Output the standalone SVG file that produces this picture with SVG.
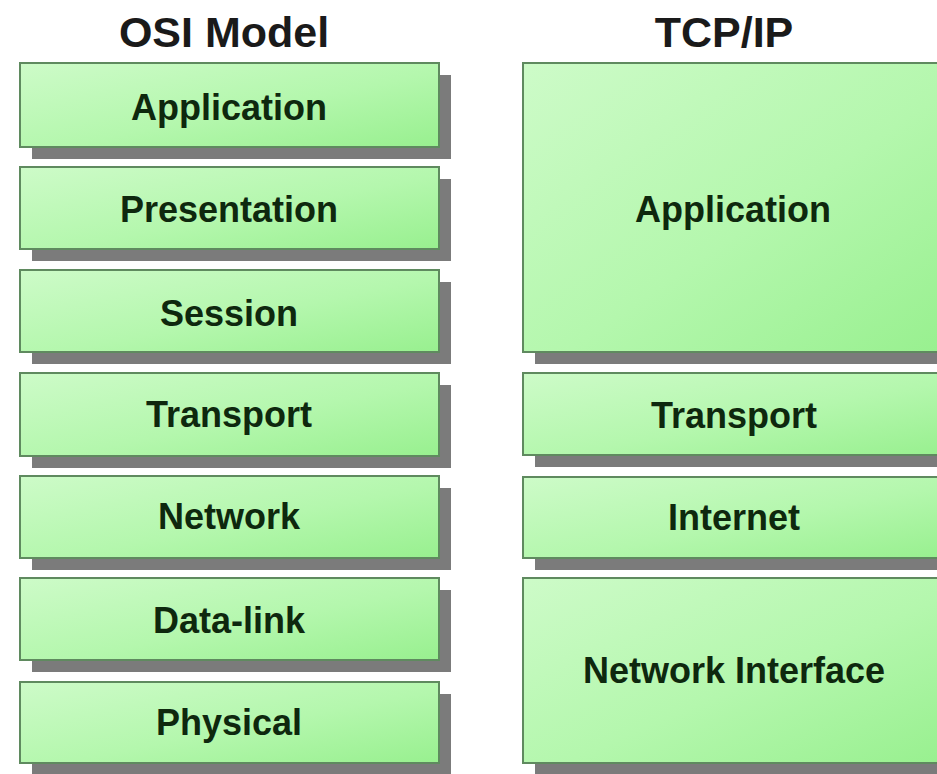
<svg xmlns="http://www.w3.org/2000/svg" width="937" height="774" viewBox="0 0 937 774">
  <defs>
    <linearGradient id="gfill" x1="0" y1="0" x2="1" y2="1">
      <stop offset="0" stop-color="#cdfbc8"/>
      <stop offset="0.55" stop-color="#b4f7ad"/>
      <stop offset="1" stop-color="#98f08f"/>
    </linearGradient>
  </defs>
  <style>
    .shadow { fill: #7b7b7b; }
    .box { fill: url(#gfill); stroke: #5f8a5f; stroke-width: 2; }
    .label { font-family: "Liberation Sans", Arial, sans-serif; font-weight: bold; font-size: 36px; fill: #0e280e; text-anchor: middle; }
    .title { font-family: "Liberation Sans", Arial, sans-serif; font-weight: bold; font-size: 43px; fill: #1a1a1a; text-anchor: middle; }
  </style>
  <rect x="0" y="0" width="937" height="774" fill="#ffffff"/>

  <g id="titles">
    <text class="title" x="224" y="47">OSI Model</text>
    <text class="title" x="724" y="47">TCP/IP</text>
  </g>

  <g id="osi">
    <g id="osi-application">
      <rect class="shadow" x="32" y="75" width="419" height="84"/>
      <rect class="box" x="20" y="63" width="419" height="84"/>
      <text class="label" x="229" y="120">Application</text>
    </g>
    <g id="osi-presentation">
      <rect class="shadow" x="32" y="179" width="419" height="82"/>
      <rect class="box" x="20" y="167" width="419" height="82"/>
      <text class="label" x="229" y="222">Presentation</text>
    </g>
    <g id="osi-session">
      <rect class="shadow" x="32" y="282" width="419" height="82"/>
      <rect class="box" x="20" y="270" width="419" height="82"/>
      <text class="label" x="229" y="326">Session</text>
    </g>
    <g id="osi-transport">
      <rect class="shadow" x="32" y="385" width="419" height="83"/>
      <rect class="box" x="20" y="373" width="419" height="83"/>
      <text class="label" x="229" y="427">Transport</text>
    </g>
    <g id="osi-network">
      <rect class="shadow" x="32" y="488" width="419" height="82"/>
      <rect class="box" x="20" y="476" width="419" height="82"/>
      <text class="label" x="229" y="529">Network</text>
    </g>
    <g id="osi-datalink">
      <rect class="shadow" x="32" y="590" width="419" height="82"/>
      <rect class="box" x="20" y="578" width="419" height="82"/>
      <text class="label" x="229" y="633">Data-link</text>
    </g>
    <g id="osi-physical">
      <rect class="shadow" x="32" y="694" width="419" height="81"/>
      <rect class="box" x="20" y="682" width="419" height="81"/>
      <text class="label" x="229" y="735">Physical</text>
    </g>
  </g>

  <g id="tcpip">
    <g id="tcp-application">
      <rect class="shadow" x="535" y="75" width="422" height="289"/>
      <rect class="box" x="523" y="63" width="422" height="289"/>
      <text class="label" x="733" y="222">Application</text>
    </g>
    <g id="tcp-transport">
      <rect class="shadow" x="535" y="385" width="422" height="82"/>
      <rect class="box" x="523" y="373" width="422" height="82"/>
      <text class="label" x="734" y="428">Transport</text>
    </g>
    <g id="tcp-internet">
      <rect class="shadow" x="535" y="489" width="422" height="81"/>
      <rect class="box" x="523" y="477" width="422" height="81"/>
      <text class="label" x="734" y="530">Internet</text>
    </g>
    <g id="tcp-network-interface">
      <rect class="shadow" x="535" y="590" width="422" height="185"/>
      <rect class="box" x="523" y="578" width="422" height="185"/>
      <text class="label" x="734" y="683">Network Interface</text>
    </g>
  </g>

  <g id="connectors"/>
</svg>
